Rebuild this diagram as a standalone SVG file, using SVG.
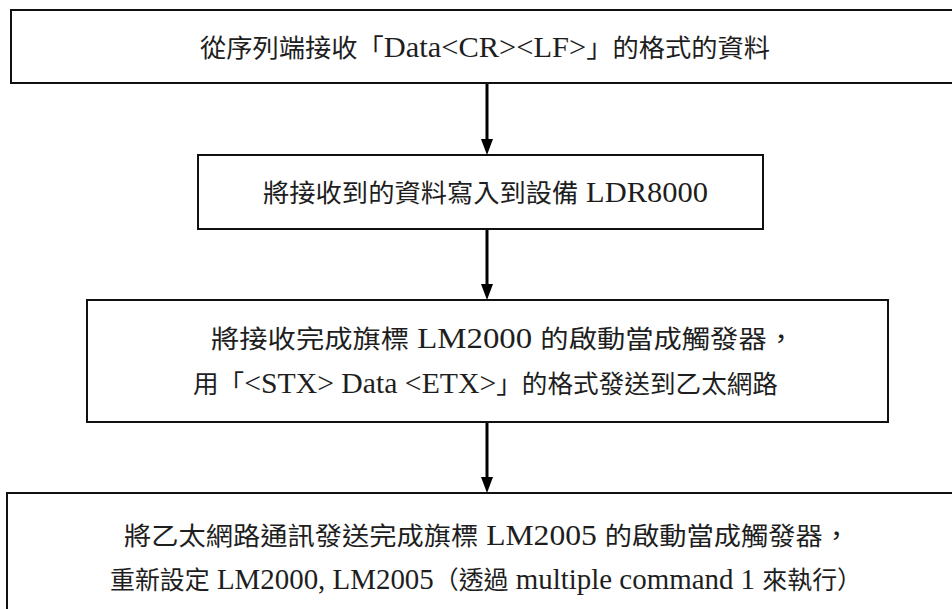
<svg xmlns="http://www.w3.org/2000/svg" width="952" height="609" viewBox="0 0 952 609">
  <style>
    .box { fill: #ffffff; stroke: #111111; stroke-width: 2; }
    .lbl { font-family: "Liberation Serif", "Noto Sans CJK TC", serif; font-size: 25px; fill: #1e1e1e; }
    .lat { font-family: "Liberation Serif", serif; font-size: 29px; }
    .wire { stroke: #000000; stroke-width: 3; fill: none; }
    .tip { fill: #000000; }
  </style>
  <rect width="952" height="609" fill="#ffffff"/>

  <g id="step-receive">
    <rect class="box" x="11" y="10" width="950" height="73"/>
    <text class="lbl" x="200" y="57" textLength="570" lengthAdjust="spacingAndGlyphs">從序列端接收「<tspan class="lat">Data&lt;CR&gt;&lt;LF&gt;</tspan>」的格式的資料</text>
  </g>

  <g id="step-write">
    <rect class="box" x="198" y="155" width="565" height="74"/>
    <text class="lbl" x="263" y="202" textLength="445" lengthAdjust="spacingAndGlyphs">將接收到的資料寫入到設備<tspan class="lat"> LDR8000</tspan></text>
  </g>

  <g id="step-send">
    <rect class="box" x="87" y="300" width="801" height="122"/>
    <text class="lbl" x="211" y="348" textLength="584" lengthAdjust="spacingAndGlyphs">將接收完成旗標<tspan class="lat"> LM2000 </tspan>的啟動當成觸發器，</text>
    <text class="lbl" x="193" y="393" textLength="585" lengthAdjust="spacingAndGlyphs">用「<tspan class="lat">&lt;STX&gt; Data &lt;ETX&gt;</tspan>」的格式發送到乙太網路</text>
  </g>

  <g id="step-reset">
    <rect class="box" x="7" y="493" width="960" height="130"/>
    <text class="lbl" x="124" y="545" textLength="726" lengthAdjust="spacingAndGlyphs">將乙太網路通訊發送完成旗標<tspan class="lat"> LM2005 </tspan>的啟動當成觸發器，</text>
    <text class="lbl" x="110" y="589" textLength="752" lengthAdjust="spacingAndGlyphs">重新設定<tspan class="lat"> LM2000, LM2005</tspan>（透過<tspan class="lat"> multiple command 1 </tspan>來執行）</text>
  </g>

  <g id="connectors">
    <line class="wire" x1="487" y1="84" x2="487" y2="141"/>
    <path class="tip" d="M481,139 L493,139 L487,155 Z"/>
    <line class="wire" x1="487" y1="230" x2="487" y2="286"/>
    <path class="tip" d="M481,284 L493,284 L487,300 Z"/>
    <line class="wire" x1="487" y1="423" x2="487" y2="479"/>
    <path class="tip" d="M481,477 L493,477 L487,493 Z"/>
  </g>
</svg>
